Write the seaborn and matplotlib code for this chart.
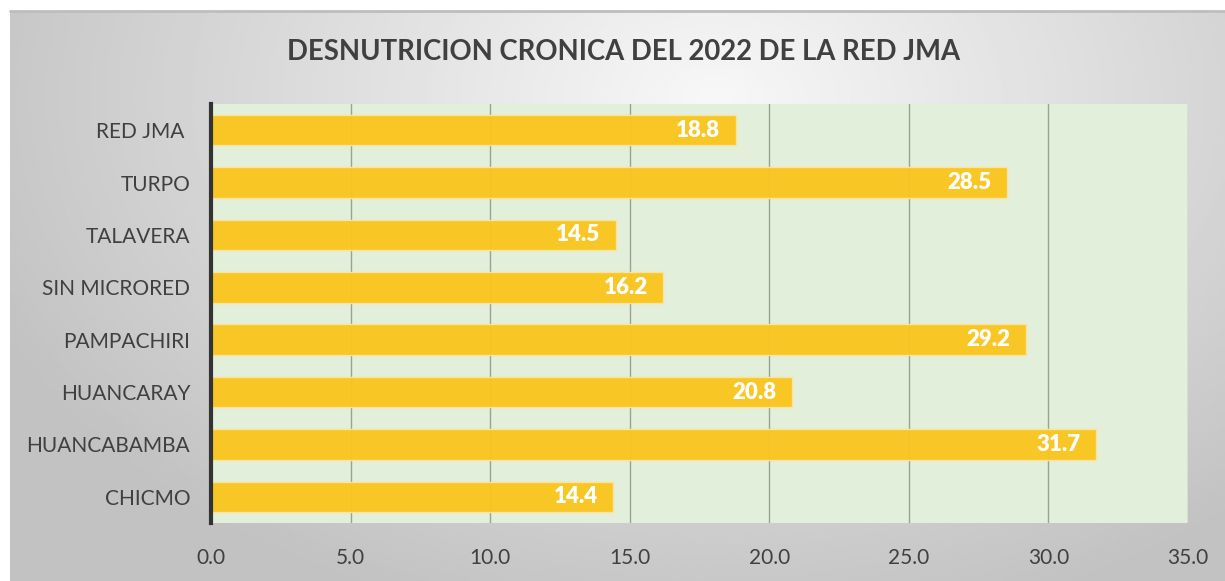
import numpy as np
import pandas as pd
import matplotlib.pyplot as plt
import seaborn as sns

# Data (top to bottom)
categories = ['RED JMA ', 'TURPO', 'TALAVERA', 'SIN MICRORED', 'PAMPACHIRI',
              'HUANCARAY', 'HUANCABAMBA', 'CHICMO']
values = [18.8, 28.5, 14.5, 16.2, 29.2, 20.8, 31.7, 14.4]
xticks = [0, 5, 10, 15, 20, 25, 30, 35]

df = pd.DataFrame({'zona': categories, 'valor': values})

sns.set_theme(style='white')
plt.rcParams['font.family'] = ['Lato', 'DejaVu Sans']

fig = plt.figure(figsize=(12.25, 5.81), dpi=100)
fig.patch.set_facecolor('white')

# grey radial gradient behind the chart
bg = fig.add_axes([10 / 1225, 0, 1 - 10 / 1225, 1 - 11 / 581])
gx, gy = np.meshgrid(np.linspace(0, 1, 400), np.linspace(0, 1, 200))
r = np.sqrt(((gx - 0.58) / 0.75) ** 2 + ((gy - 0.15) / 1.1) ** 2)
shade = np.clip(0.97 - 0.24 * r, 0.76, 0.97)
bg.imshow(shade, cmap='gray', vmin=0, vmax=1, aspect='auto', extent=[0, 1, 0, 1], origin='upper')
bg.set_axis_off()
bg.plot([0, 1], [1, 1], color='#bdbdbd', lw=2, transform=bg.transAxes, clip_on=False)

ax = fig.add_axes([211 / 1225, 1 - 523 / 581, (1188 - 211) / 1225, (523 - 104) / 581])
ax.set_facecolor('#E2EFDA')
ax.set_axisbelow(True)
ax.grid(axis='x', color='#97a397', lw=1.0)
ax.grid(axis='y', visible=False)

sns.barplot(data=df, x='valor', y='zona', orient='h', color='#F9C51F', width=0.58,
            saturation=1, edgecolor='#FCE49A', linewidth=1, alpha=0.97, ax=ax)

for i, v in enumerate(values):
    ax.text(v - 0.55, i, f'{v:.1f}', ha='right', va='center', color='white',
            fontsize=16, fontweight='heavy')

ax.set_xlim(0, 35)
ax.set_ylim(7.5, -0.5)
ax.set_xticks(xticks)
ax.set_xticklabels([f'{t:.1f}' for t in xticks])
ax.set_xlabel('')
ax.set_ylabel('')
ax.tick_params(axis='x', length=0, pad=18, labelsize=15, labelcolor='#404040')
ax.tick_params(axis='y', length=0, pad=15, labelsize=15, labelcolor='#404040')
for s in ['top', 'right', 'bottom']:
    ax.spines[s].set_visible(False)
ax.spines['left'].set_color('#333333')
ax.spines['left'].set_linewidth(3)

fig.text(624 / 1225, 1 - 52 / 581, 'DESNUTRICION CRONICA DEL 2022 DE LA RED JMA',
         ha='center', va='center', fontsize=19.8, fontweight='bold', color='#404040')

fig.savefig('out.png', dpi=100)
